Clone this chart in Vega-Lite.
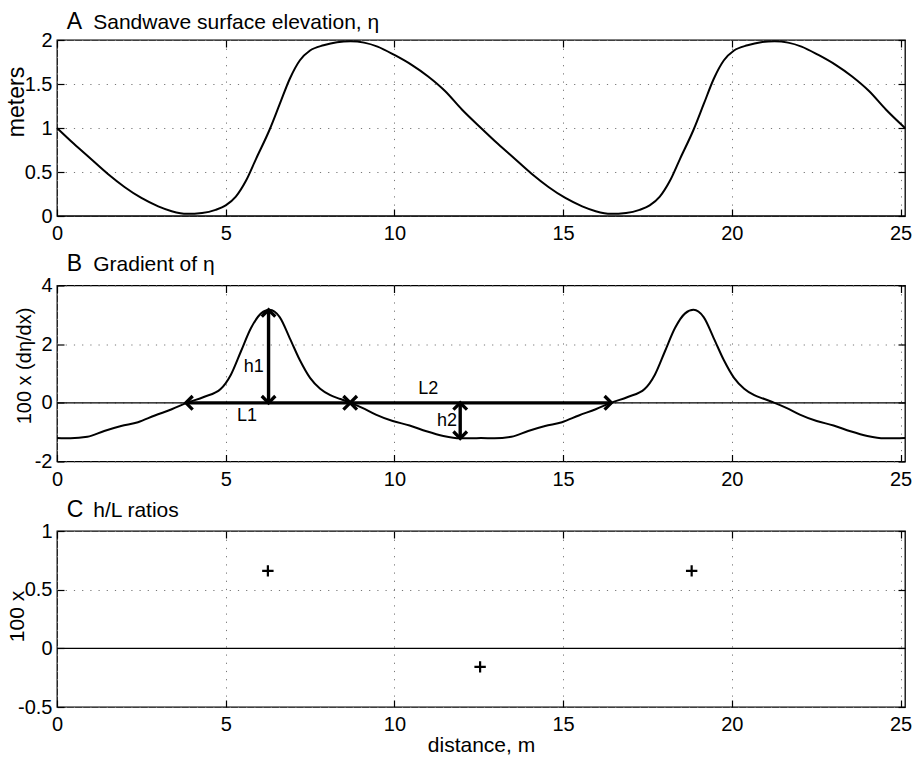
{
  "$schema": "https://vega.github.io/schema/vega-lite/v6.json",
  "padding": {"left": 5, "top": 9, "right": 2, "bottom": 2},
  "background": "white",
  "bounds": "flush",
  "spacing": 69.5,
  "config": {
    "font": "Liberation Sans",
    "view": {"stroke": "black", "strokeWidth": 1.3},
    "axis": {
      "labelFont": "Liberation Sans", "titleFont": "Liberation Sans",
      "labelColor": "black", "titleColor": "black", "titleFontWeight": "normal",
      "labelFontSize": 20, "titleFontSize": 21,
      "tickColor": "black", "tickSize": -7, "tickWidth": 1.2, "domain": false,
      "gridColor": "#777", "gridDash": [1.2, 7], "gridWidth": 1, "gridOpacity": 1,
      "labelFlush": false, "labelOverlap": false, "labelBound": false
    },
    "axisX": {"labelPadding": 14.8},
    "axisY": {"labelPadding": 12}
  },
  "datasets": {
    "eta": [
      {"x": 0, "eta": 1.0}, {"x": 0.5, "eta": 0.82}, {"x": 1.0, "eta": 0.65}, {"x": 1.5, "eta": 0.48},
      {"x": 2.0, "eta": 0.33}, {"x": 2.5, "eta": 0.205}, {"x": 3.0, "eta": 0.11}, {"x": 3.4, "eta": 0.055},
      {"x": 3.85, "eta": 0.025}, {"x": 4.3, "eta": 0.035}, {"x": 4.7, "eta": 0.07}, {"x": 5.0, "eta": 0.12},
      {"x": 5.3, "eta": 0.22}, {"x": 5.6, "eta": 0.40}, {"x": 5.9, "eta": 0.65}, {"x": 6.3, "eta": 0.98},
      {"x": 6.6, "eta": 1.27}, {"x": 6.9, "eta": 1.56}, {"x": 7.2, "eta": 1.77}, {"x": 7.5, "eta": 1.88},
      {"x": 7.9, "eta": 1.94}, {"x": 8.3, "eta": 1.975}, {"x": 8.7, "eta": 1.985}, {"x": 9.1, "eta": 1.97},
      {"x": 9.5, "eta": 1.925}, {"x": 10.0, "eta": 1.83}, {"x": 10.5, "eta": 1.72}, {"x": 11.0, "eta": 1.585},
      {"x": 11.5, "eta": 1.42}, {"x": 12.0, "eta": 1.21},
      {"x": 12.566, "eta": 1.0}, {"x": 13.066, "eta": 0.82}, {"x": 13.566, "eta": 0.65}, {"x": 14.066, "eta": 0.48},
      {"x": 14.566, "eta": 0.33}, {"x": 15.066, "eta": 0.205}, {"x": 15.566, "eta": 0.11}, {"x": 15.966, "eta": 0.055},
      {"x": 16.416, "eta": 0.025}, {"x": 16.866, "eta": 0.035}, {"x": 17.266, "eta": 0.07}, {"x": 17.566, "eta": 0.12},
      {"x": 17.866, "eta": 0.22}, {"x": 18.166, "eta": 0.40}, {"x": 18.466, "eta": 0.65}, {"x": 18.866, "eta": 0.98},
      {"x": 19.166, "eta": 1.27}, {"x": 19.466, "eta": 1.56}, {"x": 19.766, "eta": 1.77}, {"x": 20.066, "eta": 1.88},
      {"x": 20.466, "eta": 1.94}, {"x": 20.866, "eta": 1.975}, {"x": 21.266, "eta": 1.985}, {"x": 21.666, "eta": 1.97},
      {"x": 22.066, "eta": 1.925}, {"x": 22.566, "eta": 1.83}, {"x": 23.066, "eta": 1.72}, {"x": 23.566, "eta": 1.585},
      {"x": 24.066, "eta": 1.42}, {"x": 24.566, "eta": 1.21}, {"x": 25.133, "eta": 1.0}
    ],
    "grad": [
      {"x": 0, "g": -1.2}, {"x": 0.4, "g": -1.21}, {"x": 0.9, "g": -1.16}, {"x": 1.4, "g": -0.96},
      {"x": 1.9, "g": -0.79}, {"x": 2.4, "g": -0.66}, {"x": 2.9, "g": -0.43}, {"x": 3.4, "g": -0.22},
      {"x": 3.85, "g": 0}, {"x": 4.35, "g": 0.2}, {"x": 4.85, "g": 0.47}, {"x": 5.15, "g": 0.95},
      {"x": 5.45, "g": 1.75}, {"x": 5.75, "g": 2.55}, {"x": 6.05, "g": 3.05}, {"x": 6.3, "g": 3.17},
      {"x": 6.6, "g": 2.92}, {"x": 6.9, "g": 2.2}, {"x": 7.2, "g": 1.45}, {"x": 7.5, "g": 0.85},
      {"x": 7.8, "g": 0.48}, {"x": 8.1, "g": 0.26}, {"x": 8.4, "g": 0.13}, {"x": 8.7, "g": 0},
      {"x": 9.05, "g": -0.17}, {"x": 9.45, "g": -0.40}, {"x": 9.95, "g": -0.62}, {"x": 10.45, "g": -0.77},
      {"x": 10.95, "g": -0.97}, {"x": 11.45, "g": -1.13}, {"x": 11.95, "g": -1.21}, {"x": 12.3, "g": -1.21},
      {"x": 12.566, "g": -1.2}, {"x": 12.966, "g": -1.21}, {"x": 13.466, "g": -1.16}, {"x": 13.966, "g": -0.96},
      {"x": 14.466, "g": -0.79}, {"x": 14.966, "g": -0.66}, {"x": 15.466, "g": -0.43}, {"x": 15.966, "g": -0.22},
      {"x": 16.416, "g": 0}, {"x": 16.916, "g": 0.2}, {"x": 17.416, "g": 0.47}, {"x": 17.716, "g": 0.95},
      {"x": 18.016, "g": 1.75}, {"x": 18.316, "g": 2.55}, {"x": 18.616, "g": 3.05}, {"x": 18.866, "g": 3.17},
      {"x": 19.166, "g": 2.92}, {"x": 19.466, "g": 2.2}, {"x": 19.766, "g": 1.45}, {"x": 20.066, "g": 0.85},
      {"x": 20.366, "g": 0.48}, {"x": 20.666, "g": 0.26}, {"x": 20.966, "g": 0.13}, {"x": 21.266, "g": 0},
      {"x": 21.616, "g": -0.17}, {"x": 22.016, "g": -0.40}, {"x": 22.516, "g": -0.62}, {"x": 23.016, "g": -0.77},
      {"x": 23.516, "g": -0.97}, {"x": 24.016, "g": -1.13}, {"x": 24.516, "g": -1.21}, {"x": 24.866, "g": -1.21},
      {"x": 25.133, "g": -1.2}
    ],
    "arrows": [
      {"name": "L1", "x": 3.82, "x2": 8.69, "y": 0, "y2": 0},
      {"name": "L2", "x": 8.69, "x2": 16.43, "y": 0, "y2": 0},
      {"name": "h1", "x": 6.27, "x2": 6.27, "y": 0, "y2": 3.17},
      {"name": "h2", "x": 11.95, "x2": 11.95, "y": 0, "y2": -1.21}
    ],
    "heads": [
      {"x": 3.82, "y": 0, "dir": "left"},
      {"x": 8.69, "y": 0, "dir": "right"},
      {"x": 8.69, "y": 0, "dir": "left"},
      {"x": 16.43, "y": 0, "dir": "right"},
      {"x": 6.27, "y": 3.17, "dir": "up"},
      {"x": 6.27, "y": 0, "dir": "down"},
      {"x": 11.95, "y": 0, "dir": "up"},
      {"x": 11.95, "y": -1.21, "dir": "down"}
    ],
    "labels": [
      {"x": 5.83, "y": 1.22, "label": "h1"},
      {"x": 5.63, "y": -0.45, "label": "L1"},
      {"x": 11.0, "y": 0.46, "label": "L2"},
      {"x": 11.56, "y": -0.62, "label": "h2"}
    ],
    "ratios": [
      {"x": 6.25, "r": 0.66},
      {"x": 12.54, "r": -0.158},
      {"x": 18.81, "r": 0.66}
    ]
  },
  "vconcat": [
    {
      "width": 848, "height": 176,
      "layer": [
        {
          "data": {"name": "eta"},
          "mark": {"type": "line", "color": "black", "strokeWidth": 2, "interpolate": "monotone"},
          "encoding": {
            "x": {"field": "x", "type": "quantitative",
                  "scale": {"domain": [0, 25.133], "nice": false, "zero": false},
                  "axis": {"orient": "bottom", "values": [0, 5, 10, 15, 20, 25], "grid": true, "title": null, "labelExpr": "'' + datum.value"}},
            "y": {"field": "eta", "type": "quantitative",
                  "scale": {"domain": [0, 2], "nice": false, "zero": false},
                  "axis": {"orient": "left", "values": [0, 0.5, 1, 1.5, 2], "grid": true, "title": "meters", "labelExpr": "'' + datum.value",
                           "titleFontSize": 23, "titleX": -33.3, "titleY": 61.5, "titleBaseline": "alphabetic", "titleAngle": 270}}
          }
        },
        {
          "data": {"values": [{}]},
          "mark": {"type": "rule", "color": "black", "strokeWidth": 1},
          "encoding": {
            "x": {"datum": 0, "type": "quantitative",
                  "axis": {"orient": "top", "values": [0, 5, 10, 15, 20, 25], "labels": false, "grid": false,
                           "title": "Sandwave surface elevation, η", "titleFontSize": 21, "titleX": 35.7, "titleY": -11.7,
                           "titleAlign": "left", "titleAnchor": null, "titleBaseline": "alphabetic"}},
            "x2": {"datum": 25.133},
            "y": {"datum": 0, "type": "quantitative",
                  "axis": {"orient": "right", "values": [0, 0.5, 1, 1.5, 2], "labels": false, "grid": false,
                           "title": "A", "titleFontSize": 23, "titleAngle": 0, "titleX": -838.7, "titleY": -11.7,
                           "titleAlign": "left", "titleAnchor": null, "titleBaseline": "alphabetic"}}
          }
        }
      ],
      "resolve": {"axis": {"x": "independent", "y": "independent"}}
    },
    {
      "width": 848, "height": 176,
      "layer": [
        {
          "data": {"name": "grad"},
          "mark": {"type": "line", "color": "black", "strokeWidth": 2, "interpolate": "monotone"},
          "encoding": {
            "x": {"field": "x", "type": "quantitative",
                  "scale": {"domain": [0, 25.133], "nice": false, "zero": false},
                  "axis": {"orient": "bottom", "values": [0, 5, 10, 15, 20, 25], "grid": true, "title": null, "labelExpr": "'' + datum.value"}},
            "y": {"field": "g", "type": "quantitative",
                  "scale": {"domain": [-2, 4], "nice": false, "zero": false},
                  "axis": {"orient": "left", "values": [-2, 0, 2, 4], "grid": true, "title": "100 x (dη/dx)", "labelExpr": "'' + datum.value",
                           "titleFontSize": 20, "titleX": -26.6, "titleY": 80, "titleBaseline": "alphabetic", "titleAngle": 270}}
          }
        },
        {
          "data": {"values": [{}]},
          "mark": {"type": "rule", "color": "black", "strokeWidth": 1.2},
          "encoding": {
            "x": {"datum": 0, "type": "quantitative",
                  "axis": {"orient": "top", "values": [0, 5, 10, 15, 20, 25], "labels": false, "grid": false,
                           "title": "Gradient of η", "titleFontSize": 21, "titleX": 35.7, "titleY": -15,
                           "titleAlign": "left", "titleAnchor": null, "titleBaseline": "alphabetic"}},
            "x2": {"datum": 25.133},
            "y": {"datum": 0, "type": "quantitative",
                  "axis": {"orient": "right", "values": [-2, 0, 2, 4], "labels": false, "grid": false,
                           "title": "B", "titleFontSize": 23, "titleAngle": 0, "titleX": -838.7, "titleY": -15,
                           "titleAlign": "left", "titleAnchor": null, "titleBaseline": "alphabetic"}}
          }
        },
        {
          "data": {"name": "arrows"},
          "mark": {"type": "rule", "color": "black", "strokeWidth": 3.4},
          "encoding": {
            "x": {"field": "x", "type": "quantitative", "axis": null},
            "x2": {"field": "x2"},
            "y": {"field": "y", "type": "quantitative", "axis": null},
            "y2": {"field": "y2"}
          }
        },
        {
          "data": {"name": "heads"},
          "mark": {"type": "point", "filled": false, "stroke": "black", "strokeWidth": 3.3, "size": 185, "opacity": 1, "strokeJoin": "miter"},
          "encoding": {
            "x": {"field": "x", "type": "quantitative", "axis": null},
            "y": {"field": "y", "type": "quantitative", "axis": null},
            "shape": {"field": "dir", "type": "nominal", "legend": null,
                      "scale": {"domain": ["left", "right", "up", "down"],
                                "range": ["M1,-1L0,0L1,1", "M-1,-1L0,0L-1,1", "M-1,1L0,0L1,1", "M-1,-1L0,0L1,-1"]}}
          }
        },
        {
          "data": {"name": "labels"},
          "mark": {"type": "text", "fontSize": 18, "color": "black", "align": "center", "baseline": "middle", "font": "Liberation Sans"},
          "encoding": {
            "x": {"field": "x", "type": "quantitative", "axis": null},
            "y": {"field": "y", "type": "quantitative", "axis": null},
            "text": {"field": "label"}
          }
        }
      ],
      "resolve": {"axis": {"x": "independent", "y": "independent"}}
    },
    {
      "width": 848, "height": 176,
      "layer": [
        {
          "data": {"name": "ratios"},
          "mark": {"type": "point", "shape": "M-1,0H1M0,-1V1", "filled": false, "stroke": "black", "strokeWidth": 2.2, "size": 130, "opacity": 1},
          "encoding": {
            "x": {"field": "x", "type": "quantitative",
                  "scale": {"domain": [0, 25.133], "nice": false, "zero": false},
                  "axis": {"orient": "bottom", "values": [0, 5, 10, 15, 20, 25], "grid": true, "title": "distance, m", "labelExpr": "'' + datum.value",
                           "titleX": 424, "titleY": 44.7, "titleBaseline": "alphabetic", "titleAnchor": null}},
            "y": {"field": "r", "type": "quantitative",
                  "scale": {"domain": [-0.5, 1], "nice": false, "zero": false},
                  "axis": {"orient": "left", "values": [-0.5, 0, 0.5, 1], "grid": true, "title": "100 x", "labelExpr": "'' + datum.value",
                           "titleX": -33.3, "titleY": 85, "titleBaseline": "alphabetic", "titleAngle": 270}}
          }
        },
        {
          "data": {"values": [{}]},
          "mark": {"type": "rule", "color": "black", "strokeWidth": 1.2},
          "encoding": {
            "x": {"datum": 0, "type": "quantitative",
                  "axis": {"orient": "top", "values": [0, 5, 10, 15, 20, 25], "labels": false, "grid": false,
                           "title": "h/L ratios", "titleFontSize": 21, "titleX": 35.7, "titleY": -15,
                           "titleAlign": "left", "titleAnchor": null, "titleBaseline": "alphabetic"}},
            "x2": {"datum": 25.133},
            "y": {"datum": 0, "type": "quantitative",
                  "axis": {"orient": "right", "values": [-0.5, 0, 0.5, 1], "labels": false, "grid": false,
                           "title": "C", "titleFontSize": 23, "titleAngle": 0, "titleX": -838.7, "titleY": -15,
                           "titleAlign": "left", "titleAnchor": null, "titleBaseline": "alphabetic"}}
          }
        }
      ],
      "resolve": {"axis": {"x": "independent", "y": "independent"}}
    }
  ]
}
